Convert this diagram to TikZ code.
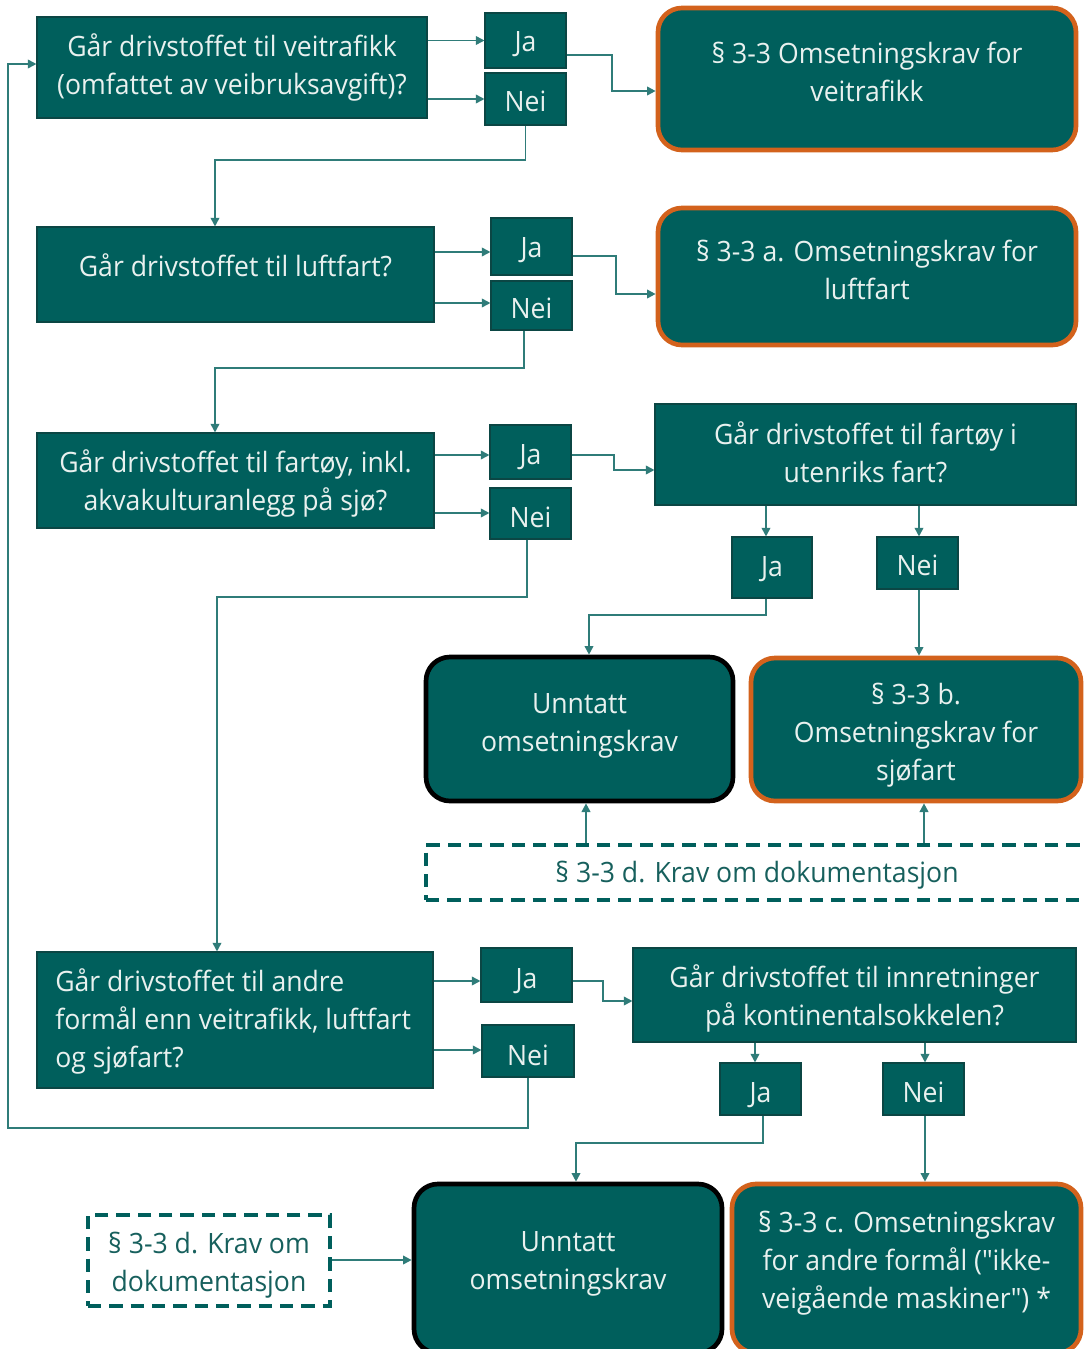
\documentclass[tikz,border=0pt]{standalone}
\usepackage{fontspec}
\setmainfont{Open Sans}[FakeStretch=0.95]
\newfontfamily\plainq{Open Sans}[FakeStretch=0.95]
\usetikzlibrary{arrows.meta}
\definecolor{teal1}{HTML}{005F5C}
\definecolor{tealdk}{HTML}{0B4644}
\definecolor{conncol}{HTML}{2F7C79}
\definecolor{orng}{HTML}{D3621C}
\definecolor{txtw}{HTML}{E9F1EF}
\definecolor{dtext}{HTML}{17605D}
\tikzset{
  base/.style={rectangle, fill=teal1, inner sep=0pt},
  qbox/.style={base, draw=tealdk, line width=0.8pt},
  resbox/.style={base, draw=orng, line width=3.5pt, rounded corners=18pt},
  unnbox/.style={base, draw=black, line width=3.5pt, rounded corners=18pt},
  dbox/.style={rectangle, draw=teal1, line width=2.5pt, dash pattern=on 10pt off 6pt, fill=white, inner sep=0pt},
  wtxt/.style={text=txtw, align=center, inner sep=0pt, font=\fontsize{21}{28.5}\selectfont},
  dtxt/.style={wtxt, text=dtext},
  conn/.style={draw=conncol, line width=1.3pt, -{Triangle[length=6.5pt,width=6.5pt]}},
}
% \bx{name}{boxstyle}{x1}{y1}{x2}{y2}{text}{text offset px (down)}{textstyle}
\newcommand\bx[9]{%
  \node[#2, minimum width={(#5-#3)*0.75pt}, minimum height={(#6-#4)*0.75pt}] (#1) at ({(#3+#5)/2},{(#4+#6)/2}) {};
  \node[#9] (#1-t) at ({(#3+#5)/2},{(#4+#6)/2+#8}) {#7};}
\newcommand\qq{{\plainq"}}
\begin{document}
\begin{tikzpicture}[x=0.75pt,y=-0.75pt]
\useasboundingbox (0,0) rectangle (1084,1349);
\clip (0,0) rectangle (1084,1349);
\bx{A1}{qbox}{37}{17}{427}{118}{Går drivstoffet til veitrafikk\\(omfattet av veibruksavgift)?}{0}{wtxt}
\bx{ja1}{qbox}{485}{13}{566}{68}{Ja}{4}{wtxt}
\bx{nei1}{qbox}{485}{73}{566}{125}{Nei}{2}{wtxt}
\bx{R1}{resbox}{658}{8}{1076}{150}{§ 3-3 Omsetningskrav for\\veitrafikk}{-7}{wtxt}
\bx{A2}{qbox}{37}{227}{434}{322}{Går drivstoffet til luftfart?}{-9}{wtxt}
\bx{ja2}{qbox}{491}{218}{572}{275}{Ja}{4}{wtxt}
\bx{nei2}{qbox}{491}{281}{572}{330}{Nei}{3}{wtxt}
\bx{R2}{resbox}{658}{208}{1076}{345}{§ 3-3 a. Omsetningskrav for\\luftfart}{-7}{wtxt}
\bx{A3}{qbox}{37}{433}{434}{528}{Går drivstoffet til fartøy, inkl.\\akvakulturanlegg på sjø?}{3}{wtxt}
\bx{ja3}{qbox}{490}{425}{571}{479}{Ja}{5}{wtxt}
\bx{nei3}{qbox}{490}{488}{571}{539}{Nei}{4}{wtxt}
\bx{Q3}{qbox}{655}{404}{1076}{505}{Går drivstoffet til fartøy i\\utenriks fart?}{-2}{wtxt}
\bx{ja3b}{qbox}{732}{537}{812}{598}{Ja}{2}{wtxt}
\bx{nei3b}{qbox}{877}{537}{958}{589}{Nei}{2}{wtxt}
\bx{U1}{unnbox}{426}{657}{733}{801}{Unntatt\\omsetningskrav}{-3}{wtxt}
\bx{R3}{resbox}{751}{658}{1081}{801}{§ 3-3 b.\\Omsetningskrav for\\sjøfart}{6}{wtxt}
\bx{D1}{dbox}{426}{845}{1088}{900}{§ 3-3 d. Krav om dokumentasjon}{3}{dtxt}
\node[base, qbox, minimum width={(433-37)*0.75pt}, minimum height={(1088-952)*0.75pt}] (A4) at ({(37+433)/2},{(952+1088)/2}) {};
\node[wtxt, align=left, anchor=west] (A4-t) at (55,1021) {Går drivstoffet til andre\\formål enn veitrafikk, luftfart\\og sjøfart?};
\bx{ja4}{qbox}{481}{948}{572}{1002}{Ja}{6}{wtxt}
\bx{nei4}{qbox}{482}{1025}{574}{1077}{Nei}{4}{wtxt}
\bx{Q4}{qbox}{633}{948}{1076}{1042}{Går drivstoffet til innretninger\\på kontinentalsokkelen?}{3}{wtxt}
\bx{ja4b}{qbox}{720}{1063}{801}{1115}{Ja}{6}{wtxt}
\bx{nei4b}{qbox}{883}{1063}{964}{1115}{Nei}{3}{wtxt}
\bx{U2}{unnbox}{414}{1184}{722}{1353}{Unntatt\\omsetningskrav}{-5}{wtxt}
\bx{R4}{resbox}{732}{1184}{1081}{1353}{§ 3-3 c. Omsetningskrav\\for andre formål (\qq ikke-\\veigående maskiner\qq) *}{-5}{wtxt}
\bx{D2}{dbox}{88}{1215}{330}{1306}{§ 3-3 d. Krav om\\dokumentasjon}{5}{dtxt}
% connectors
\draw[conn] (A1.east|-ja1.west) -- (ja1.west);
\draw[conn] (A1.east|-nei1.west) -- (nei1.west);
\draw[conn] (ja1.east|-0,55) -- (612,55) -- (612,91) -- (R1.west|-0,91);
\draw[conn] (nei1.south) -- (nei1.south|-0,160) -- (215,160) -- (A2.north-|215,0);
\draw[conn] (A2.east|-0,252) -- (ja2.west|-0,252);
\draw[conn] (A2.east|-0,303) -- (nei2.west|-0,303);
\draw[conn] (ja2.east|-0,256) -- (616,256) -- (616,294) -- (R2.west|-0,294);
\draw[conn] (nei2.south-|524,0) -- (524,368) -- (215,368) -- (A3.north-|215,0);
\draw[conn] (A3.east|-0,455) -- (ja3.west|-0,455);
\draw[conn] (A3.east|-0,513) -- (nei3.west|-0,513);
\draw[conn] (ja3.east|-0,455) -- (614,455) -- (614,470) -- (Q3.west|-0,470);
\draw[conn] (Q3.south-|766,0) -- (ja3b.north-|766,0);
\draw[conn] (Q3.south-|919,0) -- (nei3b.north-|919,0);
\draw[conn] (ja3b.south-|766,0) -- (766,615) -- (589,615) -- (U1.north-|589,0);
\draw[conn] (nei3b.south-|919,0) -- (R3.north-|919,0);
\draw[conn] (D1.north-|586,0) -- (U1.south-|586,0);
\draw[conn] (D1.north-|924,0) -- (R3.south-|924,0);
\draw[conn] (nei3.south-|527,0) -- (527,597) -- (217,597) -- (A4.north-|217,0);
\draw[conn] (A4.east|-0,981) -- (ja4.west|-0,981);
\draw[conn] (A4.east|-0,1050) -- (nei4.west|-0,1050);
\draw[conn] (ja4.east|-0,981) -- (603,981) -- (603,1001) -- (Q4.west|-0,1001);
\draw[conn] (Q4.south-|755,0) -- (ja4b.north-|755,0);
\draw[conn] (Q4.south-|925,0) -- (nei4b.north-|925,0);
\draw[conn] (ja4b.south-|763,0) -- (763,1143) -- (576,1143) -- (U2.north-|576,0);
\draw[conn] (nei4b.south-|925,0) -- (R4.north-|925,0);
\draw[conn] (nei4.south-|528,0) -- (528,1128) -- (8,1128) -- (8,64) -- (A1.west|-0,64);
\draw[conn] (D2.east|-0,1260) -- (U2.west|-0,1260);
\end{tikzpicture}
\end{document}
